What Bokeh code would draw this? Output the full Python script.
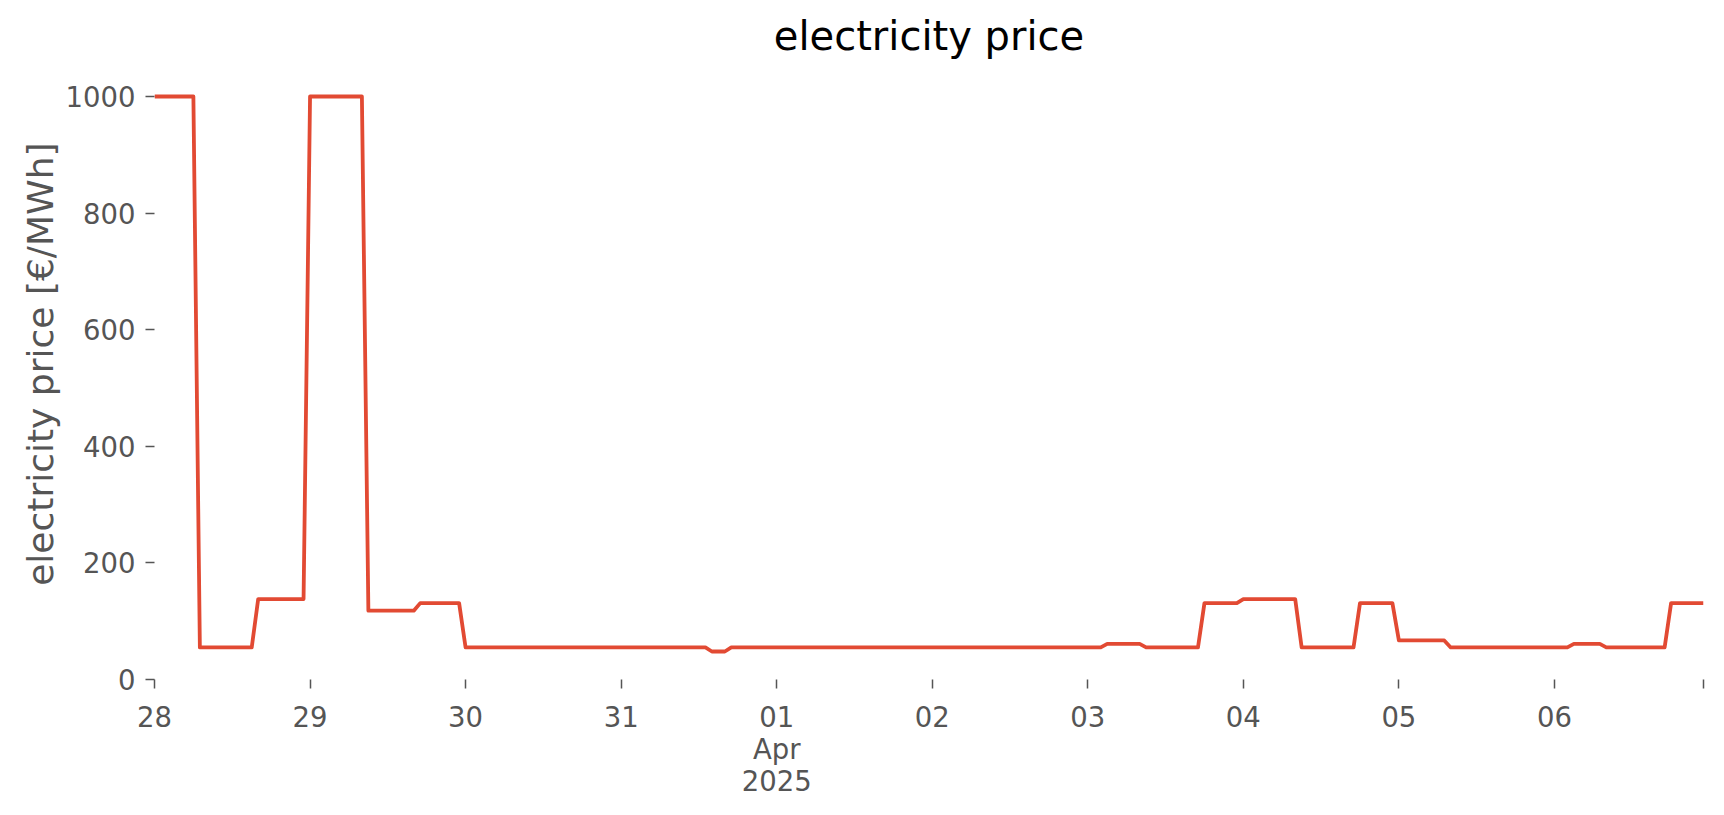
import pandas as pd
from bokeh.plotting import figure
from bokeh.models import Range1d, FixedTicker, Title
from bokeh.embed import file_html
from bokeh.resources import INLINE

# hourly electricity price [EUR/MWh], one row per day (hours 0..23)
mar28 = [1000, 1000, 1000, 1000, 1000, 1000, 1000, 55, 55, 55, 55, 55, 55, 55, 55, 55, 138, 138, 138, 138, 138, 138, 138, 138]
mar29 = [1000, 1000, 1000, 1000, 1000, 1000, 1000, 1000, 1000, 118, 118, 118, 118, 118, 118, 118, 118, 131, 131, 131, 131, 131, 131, 131]
mar30 = [55, 55, 55, 55, 55, 55, 55, 55, 55, 55, 55, 55, 55, 55, 55, 55, 55, 55, 55, 55, 55, 55, 55, 55]
mar31 = [55, 55, 55, 55, 55, 55, 55, 55, 55, 55, 55, 55, 55, 55, 48, 48, 48, 55, 55, 55, 55, 55, 55, 55]
apr01 = [55, 55, 55, 55, 55, 55, 55, 55, 55, 55, 55, 55, 55, 55, 55, 55, 55, 55, 55, 55, 55, 55, 55, 55]
apr02 = [55, 55, 55, 55, 55, 55, 55, 55, 55, 55, 55, 55, 55, 55, 55, 55, 55, 55, 55, 55, 55, 55, 55, 55]
apr03 = [55, 55, 55, 61, 61, 61, 61, 61, 61, 55, 55, 55, 55, 55, 55, 55, 55, 55, 131, 131, 131, 131, 131, 131]
apr04 = [138, 138, 138, 138, 138, 138, 138, 138, 138, 55, 55, 55, 55, 55, 55, 55, 55, 55, 131, 131, 131, 131, 131, 131]
apr05 = [67, 67, 67, 67, 67, 67, 67, 67, 55, 55, 55, 55, 55, 55, 55, 55, 55, 55, 55, 55, 55, 55, 55, 55]
apr06 = [55, 55, 55, 61, 61, 61, 61, 61, 55, 55, 55, 55, 55, 55, 55, 55, 55, 55, 131, 131, 131, 131, 131, 131]

prices = mar28 + mar29 + mar30 + mar31 + apr01 + apr02 + apr03 + apr04 + apr05 + apr06
times = pd.date_range("2025-03-28 00:00", periods=len(prices), freq="h")

tick_days = ["2025-03-28", "2025-03-29", "2025-03-30", "2025-03-31", "2025-04-01",
             "2025-04-02", "2025-04-03", "2025-04-04", "2025-04-05", "2025-04-06", "2025-04-06 23:00"]
tick_labels = ["28", "29", "30", "31", "01\nApr\n2025", "02", "03", "04", "05", "06", ""]
y_ticks = [0, 200, 400, 600, 800, 1000]

def ms(t):
    return int((pd.Timestamp(t) - pd.Timestamp("1970-01-01")) // pd.Timedelta("1ms"))

tick_ms = [ms(t) for t in tick_days]

p = figure(width=1708, height=799, x_axis_type="datetime",
           output_backend="svg", toolbar_location=None,
           x_range=Range1d(times[0], times[-1]), y_range=Range1d(0, 1048),
           min_border_left=154, min_border_right=5, min_border_top=68, min_border_bottom=118,
           title="electricity price")

p.line(times, prices, line_color="#E24A33", line_width=3.8, line_join="round")

p.title.text_font = "DejaVu Sans"
p.title.text_font_size = "40px"
p.title.text_font_style = "normal"
p.title.text_color = "black"
p.title.align = "center"
p.title.standoff = 20

p.xgrid.visible = False
p.ygrid.visible = False
p.outline_line_color = None
p.background_fill_color = "white"
p.border_fill_color = "white"

for ax in (p.xaxis[0], p.yaxis[0]):
    ax.axis_line_color = None
    ax.major_tick_line_color = "#555555"
    ax.major_tick_line_width = 1.5
    ax.major_tick_in = 0
    ax.major_tick_out = 9
    ax.minor_tick_line_color = None
    ax.major_label_text_font = "DejaVu Sans"
    ax.major_label_text_font_size = "27.5px"
    ax.major_label_text_color = "#555555"
    ax.major_label_standoff = 10

p.xaxis[0].ticker = FixedTicker(ticks=tick_ms)
p.xaxis[0].major_label_overrides = {t: lab for t, lab in zip(tick_ms, tick_labels)}
p.xaxis[0].major_label_standoff = 12
p.xaxis[0].major_label_text_line_height = 1.0

p.yaxis[0].ticker = FixedTicker(ticks=y_ticks)

ylab = Title(text="electricity price [€/MWh]", align="right", offset=74,
             text_font="DejaVu Sans", text_font_size="36px", text_font_style="normal",
             text_color="#555555", standoff=4)
p.add_layout(ylab, "left")

open("out.html", "w").write(file_html(p, INLINE))
